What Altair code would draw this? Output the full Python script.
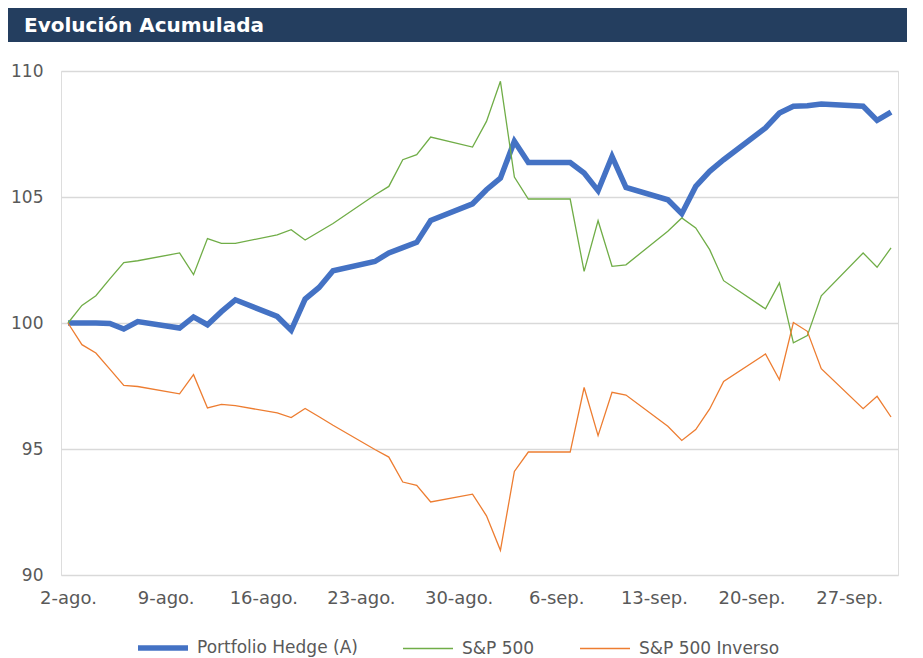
import altair as alt
import pandas as pd

# ---- data ----
dates = [
    "2020-08-02", "2020-08-03", "2020-08-04", "2020-08-05", "2020-08-06", "2020-08-07",
    "2020-08-10", "2020-08-11", "2020-08-12", "2020-08-13", "2020-08-14",
    "2020-08-17", "2020-08-18", "2020-08-19", "2020-08-20", "2020-08-21",
    "2020-08-24", "2020-08-25", "2020-08-26", "2020-08-27", "2020-08-28",
    "2020-08-31", "2020-09-01", "2020-09-02", "2020-09-03", "2020-09-04",
    "2020-09-07", "2020-09-08", "2020-09-09", "2020-09-10", "2020-09-11",
    "2020-09-14", "2020-09-15", "2020-09-16", "2020-09-17", "2020-09-18",
    "2020-09-21", "2020-09-22", "2020-09-23", "2020-09-24", "2020-09-25",
    "2020-09-28", "2020-09-29", "2020-09-30",
]

portfolio_hedge = [
    100.00, 100.00, 100.00, 99.98, 99.76, 100.06,
    99.80, 100.24, 99.93, 100.45, 100.92,
    100.26, 99.71, 100.95, 101.41, 102.07,
    102.44, 102.78, 102.99, 103.20, 104.07,
    104.73, 105.29, 105.75, 107.21, 106.37,
    106.37, 105.95, 105.25, 106.61, 105.38,
    104.89, 104.34, 105.42, 106.02, 106.48,
    107.74, 108.33, 108.60, 108.62, 108.69,
    108.60, 108.04, 108.37,
]

sp500 = [
    100.00, 100.70, 101.08, 101.75, 102.40, 102.47,
    102.78, 101.92, 103.35, 103.16, 103.16,
    103.50, 103.70, 103.29, 103.62, 103.95,
    105.08, 105.42, 106.48, 106.68, 107.38,
    106.98, 108.00, 109.59, 105.79, 104.92,
    104.92, 102.05, 104.06, 102.25, 102.31,
    103.64, 104.17, 103.77, 102.91, 101.68,
    100.56, 101.59, 99.21, 99.50, 101.08,
    102.78, 102.21, 102.98,
]

sp500_inverso = [
    100.00, 99.14, 98.81, 98.17, 97.52, 97.48,
    97.19, 97.95, 96.63, 96.77, 96.72,
    96.43, 96.25, 96.61, 96.28, 95.94,
    94.98, 94.68, 93.69, 93.56, 92.90,
    93.21, 92.35, 90.98, 94.11, 94.88,
    94.88, 97.44, 95.53, 97.25, 97.14,
    95.90, 95.34, 95.77, 96.59, 97.68,
    98.77, 97.75, 100.02, 99.67, 98.19,
    96.60, 97.09, 96.27,
]

series_names = ["Portfolio Hedge (A)", "S&P 500", "S&P 500 Inverso"]
series_colors = ["#4472C4", "#70AD47", "#ED7D31"]
series_widths = [5.5, 1.3, 1.3]

tick_dates = ["2020-08-02", "2020-08-09", "2020-08-16", "2020-08-23", "2020-08-30",
              "2020-09-06", "2020-09-13", "2020-09-20", "2020-09-27"]
tick_labels = ["2-ago.", "9-ago.", "16-ago.", "23-ago.", "30-ago.",
               "6-sep.", "13-sep.", "20-sep.", "27-sep."]
y_ticks = [90, 95, 100, 105, 110]

title_text = "Evolución Acumulada"

# ---- build table ----
rows = []
for name, vals in zip(series_names, [portfolio_hedge, sp500, sp500_inverso]):
    for d, v in zip(dates, vals):
        rows.append({"fecha": d, "serie": name, "valor": v})
df = pd.DataFrame(rows)

def to_dt(s):
    t = pd.Timestamp(s)
    return alt.DateTime(year=t.year, month=t.month, date=t.day, utc=True)

tick_values = [to_dt(s) for s in tick_dates]
ms = [int(pd.Timestamp(s, tz="UTC").timestamp() * 1000) for s in tick_dates]
label_expr = "".join(f"datum.value == {m} ? '{l}' : " for m, l in zip(ms, tick_labels)) + "''"

x_domain = [
    alt.DateTime(year=2020, month=8, date=1, hours=12, utc=True),
    alt.DateTime(year=2020, month=9, date=30, hours=12, utc=True),
]

FONT = "DejaVu Sans"

lines = alt.Chart(df).mark_line(strokeJoin="miter", strokeCap="butt").encode(
    x=alt.X("fecha:T",
            scale=alt.Scale(type="utc", domain=x_domain),
            axis=alt.Axis(values=tick_values, labelExpr=label_expr, title=None,
                          grid=False, ticks=False, domain=False,
                          labelFont=FONT, labelFontSize=18, labelColor="#595959",
                          labelPadding=14, labelFlush=False, labelOverlap=False)),
    y=alt.Y("valor:Q",
            scale=alt.Scale(domain=[90, 110], nice=False, zero=False),
            axis=alt.Axis(values=y_ticks, title=None, grid=True, gridColor="#D9D9D9",
                          gridWidth=1.5, ticks=False, domain=False,
                          labelFont=FONT, labelFontSize=17, labelColor="#595959",
                          labelPadding=18)),
    color=alt.Color("serie:N",
                    scale=alt.Scale(domain=series_names, range=series_colors),
                    legend=alt.Legend(title=None, orient="none", direction="horizontal",
                                      legendX=74, legendY=549, symbolType="stroke",
                                      symbolSize=2500, labelFont=FONT, labelFontSize=17,
                                      labelColor="#595959", columnPadding=42,
                                      labelOffset=6, columns=3, labelLimit=300)),
    strokeWidth=alt.StrokeWidth("serie:N",
                                scale=alt.Scale(type="ordinal", domain=series_names,
                                                range=series_widths),
                                legend=None),
    order=alt.Order("serie_order:Q"),
).transform_calculate(
    serie_order="indexof(['S&P 500 Inverso','S&P 500','Portfolio Hedge (A)'], datum.serie)"
)

one = alt.Data(values=[{}])

title_bar = alt.Chart(one).mark_rect(color="#243E5F").encode(
    x=alt.value(-56), x2=alt.value(846), y=alt.value(-64), y2=alt.value(-29)
)
title_txt = alt.Chart(one).mark_text(
    text=title_text, font=FONT, fontSize=20, fontWeight="bold", color="white",
    align="left", baseline="alphabetic"
).encode(x=alt.value(-37), y=alt.value(-39))

chart = alt.layer(title_bar, title_txt, lines).properties(
    width=837, height=504,
    autosize=alt.AutoSizeParams(type="none"),
    padding={"left": 53, "top": 63, "right": 17, "bottom": 90},
).configure_view(stroke=None).configure(background="white")

chart.save("out.html", embed_options={"renderer": "svg", "actions": False})
